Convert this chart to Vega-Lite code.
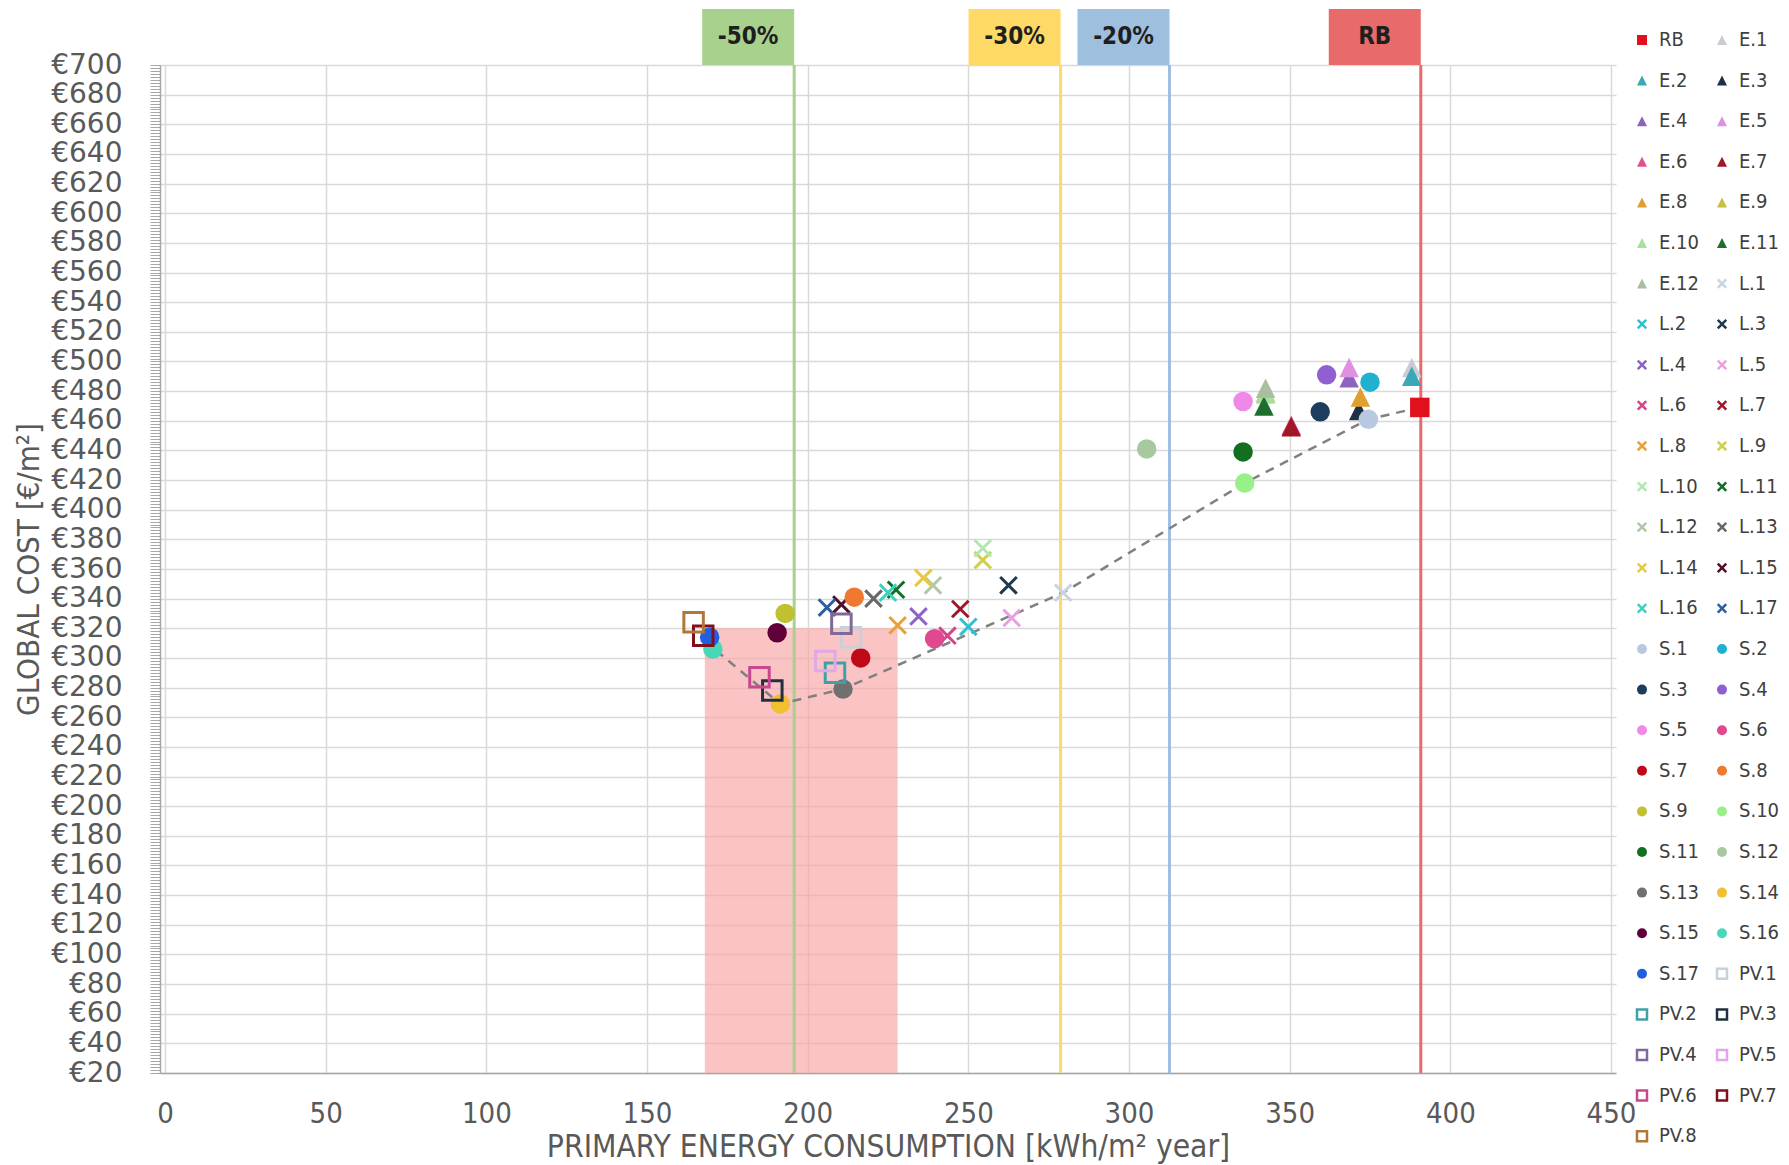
{
  "$schema": "https://vega.github.io/schema/vega-lite/v6.json",
  "width": 1456,
  "height": 1008,
  "autosize": {"type": "none"},
  "padding": {"left": 160, "top": 65, "right": 173, "bottom": 92},
  "background": "white",
  "config": {"view": {"stroke": null}},
  "datasets": {
    "zone": [{"e1": 168, "e2": 228, "c1": 20, "c2": 320}],
    "targets": [
      {"label": "-50%", "energy": 195.8},
      {"label": "-30%", "energy": 278.7},
      {"label": "-20%", "energy": 312.6},
      {"label": "RB", "energy": 390.8}
    ],
    "front": [
      {"energy": 171.5, "cost": 305},
      {"energy": 191.5, "cost": 269},
      {"energy": 211, "cost": 279},
      {"energy": 279.5, "cost": 344},
      {"energy": 336, "cost": 418},
      {"energy": 374.5, "cost": 461},
      {"energy": 390.5, "cost": 469}
    ],
    "points": [
      {"name": "RB", "energy": 390.5, "cost": 469},
      {"name": "E.1", "energy": 388, "cost": 496},
      {"name": "E.2", "energy": 388, "cost": 490},
      {"name": "E.3", "energy": 371.5, "cost": 467},
      {"name": "E.4", "energy": 368.5, "cost": 489},
      {"name": "E.5", "energy": 368.5, "cost": 496},
      {"name": "E.6", "energy": 350.5, "cost": 457},
      {"name": "E.7", "energy": 350.5, "cost": 456},
      {"name": "E.8", "energy": 372, "cost": 476},
      {"name": "E.9", "energy": 342.5, "cost": 479},
      {"name": "E.10", "energy": 342.5, "cost": 478},
      {"name": "E.11", "energy": 342, "cost": 470},
      {"name": "E.12", "energy": 342.5, "cost": 482},
      {"name": "L.1", "energy": 279.5, "cost": 344},
      {"name": "L.2", "energy": 250, "cost": 321},
      {"name": "L.3", "energy": 262.5, "cost": 349},
      {"name": "L.4", "energy": 234.5, "cost": 328},
      {"name": "L.5", "energy": 263.5, "cost": 327},
      {"name": "L.6", "energy": 243.5, "cost": 315},
      {"name": "L.7", "energy": 247.5, "cost": 333},
      {"name": "L.8", "energy": 228, "cost": 322},
      {"name": "L.9", "energy": 254.5, "cost": 366},
      {"name": "L.10", "energy": 254.5, "cost": 374},
      {"name": "L.11", "energy": 227.5, "cost": 346},
      {"name": "L.12", "energy": 239, "cost": 349},
      {"name": "L.13", "energy": 220.5, "cost": 340},
      {"name": "L.14", "energy": 236, "cost": 354},
      {"name": "L.15", "energy": 210.5, "cost": 336},
      {"name": "L.16", "energy": 225, "cost": 344},
      {"name": "L.17", "energy": 206, "cost": 334},
      {"name": "S.1", "energy": 374.5, "cost": 461},
      {"name": "S.2", "energy": 375, "cost": 486},
      {"name": "S.3", "energy": 359.5, "cost": 466},
      {"name": "S.4", "energy": 361.5, "cost": 491},
      {"name": "S.5", "energy": 335.5, "cost": 473},
      {"name": "S.6", "energy": 239.5, "cost": 313},
      {"name": "S.7", "energy": 216.5, "cost": 300},
      {"name": "S.8", "energy": 214.5, "cost": 341},
      {"name": "S.9", "energy": 193, "cost": 330},
      {"name": "S.10", "energy": 336, "cost": 418},
      {"name": "S.11", "energy": 335.5, "cost": 439},
      {"name": "S.12", "energy": 305.5, "cost": 441},
      {"name": "S.13", "energy": 211, "cost": 279},
      {"name": "S.14", "energy": 191.5, "cost": 269},
      {"name": "S.15", "energy": 190.5, "cost": 317},
      {"name": "S.16", "energy": 170.5, "cost": 306},
      {"name": "S.17", "energy": 169.5, "cost": 314},
      {"name": "PV.1", "energy": 213.5, "cost": 314},
      {"name": "PV.2", "energy": 208.5, "cost": 290},
      {"name": "PV.3", "energy": 189, "cost": 278},
      {"name": "PV.4", "energy": 210.5, "cost": 323},
      {"name": "PV.5", "energy": 205.5, "cost": 298},
      {"name": "PV.6", "energy": 185, "cost": 287},
      {"name": "PV.7", "energy": 167.5, "cost": 315},
      {"name": "PV.8", "energy": 164.5, "cost": 324}
    ]
  },
  "layer": [
    {
      "data": {"name": "zone"},
      "mark": {"type": "rect", "color": "#f8a5a5", "opacity": 0.65},
      "encoding": {
        "x": {
          "field": "e1", "type": "quantitative",
          "scale": {"domain": [0, 450], "nice": false, "zero": false},
          "axis": {
            "title": "PRIMARY ENERGY CONSUMPTION [kWh/m² year]",
            "values": [0, 50, 100, 150, 200, 250, 300, 350, 400, 450],
            "ticks": false, "tickSize": 0,
            "labelPadding": 26,
            "labelFont": "Liberation Sans Narrow, DejaVu Sans Condensed, sans-serif",
            "labelFontSize": 29, "labelColor": "#595959",
            "labelOverlap": false, "labelBound": false, "labelFlush": false,
            "grid": true, "gridColor": "#d9d9d9", "gridWidth": 1.5,
            "domainColor": "#a6a6a6", "domainWidth": 1.5,
            "titleFont": "Liberation Sans Narrow, DejaVu Sans Condensed, sans-serif",
            "titleFontSize": 31.5, "titleFontWeight": "normal", "titleColor": "#595959",
            "titlePadding": 3
          }
        },
        "x2": {"field": "e2"},
        "y": {
          "field": "c1", "type": "quantitative",
          "scale": {"domain": [20, 700], "nice": false, "zero": false},
          "axis": {
            "title": "GLOBAL COST [€/m²]",
            "tickCount": 340,
            "labelExpr": "datum.value % 20 === 0 ? '€' + datum.value : ''",
            "labelOverlap": false, "labelBound": false,
            "labelFont": "DejaVu Sans", "labelFontSize": 28, "labelColor": "#595959",
            "labelPadding": 28,
            "tickSize": 10, "tickColor": "#a6a6a6", "tickWidth": 1,
            "grid": true, "gridColor": "#d9d9d9", "gridWidth": 1.5,
            "gridOpacity": {"condition": {"test": "datum.value % 20 === 0", "value": 1}, "value": 0},
            "domainColor": "#a6a6a6", "domainWidth": 1.5,
            "titleFont": "Liberation Sans Narrow, DejaVu Sans Condensed, sans-serif",
            "titleFontSize": 31, "titleFontWeight": "normal", "titleColor": "#595959",
            "titlePadding": 5
          }
        },
        "y2": {"field": "c2"}
      }
    },
    {
      "data": {"name": "targets"},
      "mark": {"type": "rule", "strokeWidth": 3},
      "encoding": {
        "x": {"field": "energy", "type": "quantitative"},
        "color": {
          "field": "label", "type": "nominal",
          "scale": {"domain": ["-50%", "-30%", "-20%", "RB"], "range": ["#a9d18e", "#ffd966", "#9fbfdf", "#e86a6a"]},
          "legend": null
        }
      }
    },
    {
      "data": {"name": "front"},
      "mark": {"type": "line", "strokeDash": [9, 7], "color": "#808080", "strokeWidth": 2.5},
      "encoding": {
        "x": {"field": "energy", "type": "quantitative"},
        "y": {"field": "cost", "type": "quantitative"}
      }
    },
    {
      "data": {"name": "points"},
      "mark": {"type": "point", "size": 380, "strokeWidth": 3, "opacity": 1},
      "encoding": {
        "x": {"field": "energy", "type": "quantitative"},
        "y": {"field": "cost", "type": "quantitative"},
        "fill": {
          "field": "name", "type": "nominal",
          "scale": {
            "domain": ["RB","E.1","E.2","E.3","E.4","E.5","E.6","E.7","E.8","E.9","E.10","E.11","E.12","L.1","L.2","L.3","L.4","L.5","L.6","L.7","L.8","L.9","L.10","L.11","L.12","L.13","L.14","L.15","L.16","L.17","S.1","S.2","S.3","S.4","S.5","S.6","S.7","S.8","S.9","S.10","S.11","S.12","S.13","S.14","S.15","S.16","S.17","PV.1","PV.2","PV.3","PV.4","PV.5","PV.6","PV.7","PV.8"],
            "range": ["#e0101e","#c8ccd4","#3aa8b8","#1e3046","#8c64c0","#e090e0","#e0508c","#a01828","#e0a030","#c8c040","#a8e0a0","#1e6e2e","#a8c0a0","transparent","transparent","transparent","transparent","transparent","transparent","transparent","transparent","transparent","transparent","transparent","transparent","transparent","transparent","transparent","transparent","transparent","#b8c8e0","#20b0d0","#1e3c5c","#9060d0","#f088e8","#e04890","#c00818","#f07830","#c0c030","#98f088","#107020","#a8c8a0","#707070","#f0c030","#600038","#48d8b8","#2060e0","transparent","transparent","transparent","transparent","transparent","transparent","transparent","transparent"]
          },
          "legend": {
            "title": null, "orient": "none", "legendX": 1472, "legendY": -35, "columns": 2, "direction": "horizontal",
            "columnPadding": 12, "rowPadding": 20.6, "padding": 0, "symbolLimit": 100,
            "symbolSize": 100, "symbolStrokeWidth": 2.5, "labelOffset": 7,
            "labelFont": "Liberation Sans Narrow, DejaVu Sans Condensed, sans-serif",
            "labelFontSize": 20, "labelColor": "#404040", "labelLimit": 200
          }
        },
        "stroke": {
          "field": "name", "type": "nominal",
          "scale": {
            "domain": ["RB","E.1","E.2","E.3","E.4","E.5","E.6","E.7","E.8","E.9","E.10","E.11","E.12","L.1","L.2","L.3","L.4","L.5","L.6","L.7","L.8","L.9","L.10","L.11","L.12","L.13","L.14","L.15","L.16","L.17","S.1","S.2","S.3","S.4","S.5","S.6","S.7","S.8","S.9","S.10","S.11","S.12","S.13","S.14","S.15","S.16","S.17","PV.1","PV.2","PV.3","PV.4","PV.5","PV.6","PV.7","PV.8"],
            "range": ["transparent","transparent","transparent","transparent","transparent","transparent","transparent","transparent","transparent","transparent","transparent","transparent","transparent","#c8d4e0","#30c0d0","#1e3a50","#8c64c8","#e8a0e0","#d04888","#a01828","#e8a040","#d0d050","#b0e8b0","#107028","#b0c8a8","#686868","#e8c840","#501028","#40d0c0","#2a5fa0","transparent","transparent","transparent","transparent","transparent","transparent","transparent","transparent","transparent","transparent","transparent","transparent","transparent","transparent","transparent","transparent","transparent","#c8d0d8","#40a0a8","#203040","#806898","#e0a8e8","#c84890","#801020","#b07838"]
          },
          "legend": {
            "title": null, "orient": "none", "legendX": 1472, "legendY": -35, "columns": 2, "direction": "horizontal",
            "columnPadding": 12, "rowPadding": 20.6, "padding": 0, "symbolLimit": 100,
            "symbolSize": 100, "symbolStrokeWidth": 2.5, "labelOffset": 7,
            "labelFont": "Liberation Sans Narrow, DejaVu Sans Condensed, sans-serif",
            "labelFontSize": 20, "labelColor": "#404040", "labelLimit": 200
          }
        },
        "shape": {
          "field": "name", "type": "nominal",
          "scale": {
            "domain": ["RB","E.1","E.2","E.3","E.4","E.5","E.6","E.7","E.8","E.9","E.10","E.11","E.12","L.1","L.2","L.3","L.4","L.5","L.6","L.7","L.8","L.9","L.10","L.11","L.12","L.13","L.14","L.15","L.16","L.17","S.1","S.2","S.3","S.4","S.5","S.6","S.7","S.8","S.9","S.10","S.11","S.12","S.13","S.14","S.15","S.16","S.17","PV.1","PV.2","PV.3","PV.4","PV.5","PV.6","PV.7","PV.8"],
            "range": ["square","M0,-1L1,1L-1,1Z","M0,-1L1,1L-1,1Z","M0,-1L1,1L-1,1Z","M0,-1L1,1L-1,1Z","M0,-1L1,1L-1,1Z","M0,-1L1,1L-1,1Z","M0,-1L1,1L-1,1Z","M0,-1L1,1L-1,1Z","M0,-1L1,1L-1,1Z","M0,-1L1,1L-1,1Z","M0,-1L1,1L-1,1Z","M0,-1L1,1L-1,1Z","M-0.85,-0.85L0.85,0.85M-0.85,0.85L0.85,-0.85","M-0.85,-0.85L0.85,0.85M-0.85,0.85L0.85,-0.85","M-0.85,-0.85L0.85,0.85M-0.85,0.85L0.85,-0.85","M-0.85,-0.85L0.85,0.85M-0.85,0.85L0.85,-0.85","M-0.85,-0.85L0.85,0.85M-0.85,0.85L0.85,-0.85","M-0.85,-0.85L0.85,0.85M-0.85,0.85L0.85,-0.85","M-0.85,-0.85L0.85,0.85M-0.85,0.85L0.85,-0.85","M-0.85,-0.85L0.85,0.85M-0.85,0.85L0.85,-0.85","M-0.85,-0.85L0.85,0.85M-0.85,0.85L0.85,-0.85","M-0.85,-0.85L0.85,0.85M-0.85,0.85L0.85,-0.85","M-0.85,-0.85L0.85,0.85M-0.85,0.85L0.85,-0.85","M-0.85,-0.85L0.85,0.85M-0.85,0.85L0.85,-0.85","M-0.85,-0.85L0.85,0.85M-0.85,0.85L0.85,-0.85","M-0.85,-0.85L0.85,0.85M-0.85,0.85L0.85,-0.85","M-0.85,-0.85L0.85,0.85M-0.85,0.85L0.85,-0.85","M-0.85,-0.85L0.85,0.85M-0.85,0.85L0.85,-0.85","M-0.85,-0.85L0.85,0.85M-0.85,0.85L0.85,-0.85","circle","circle","circle","circle","circle","circle","circle","circle","circle","circle","circle","circle","circle","circle","circle","circle","circle","square","square","square","square","square","square","square","square"]
          },
          "legend": {
            "title": null, "orient": "none", "legendX": 1472, "legendY": -35, "columns": 2, "direction": "horizontal",
            "columnPadding": 12, "rowPadding": 20.6, "padding": 0, "symbolLimit": 100,
            "symbolSize": 100, "symbolStrokeWidth": 2.5, "labelOffset": 7,
            "labelFont": "Liberation Sans Narrow, DejaVu Sans Condensed, sans-serif",
            "labelFontSize": 20, "labelColor": "#404040", "labelLimit": 200
          }
        }
      }
    },
    {
      "data": {"name": "targets"},
      "mark": {"type": "bar", "width": 92, "xOffset": -46},
      "encoding": {
        "x": {"field": "energy", "type": "quantitative"},
        "y": {"datum": 700, "type": "quantitative"},
        "y2": {"datum": 737.8},
        "color": {"field": "label", "type": "nominal", "legend": null}
      }
    },
    {
      "data": {"name": "targets"},
      "mark": {
        "type": "text", "xOffset": -46, "baseline": "middle", "align": "center",
        "font": "Liberation Sans Narrow, DejaVu Sans Condensed, sans-serif",
        "fontWeight": "bold", "fontSize": 24, "color": "#1f1f1f"
      },
      "encoding": {
        "x": {"field": "energy", "type": "quantitative"},
        "y": {"datum": 718.9, "type": "quantitative"},
        "text": {"field": "label", "type": "nominal"}
      }
    }
  ]
}
